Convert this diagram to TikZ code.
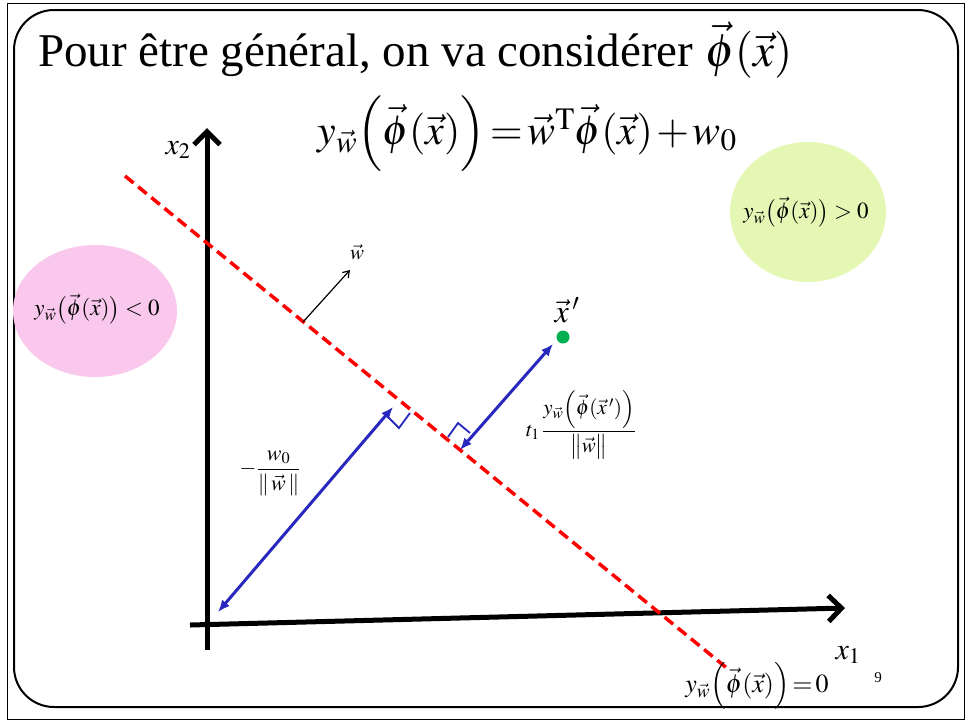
\documentclass[tikz,border=0pt]{standalone}
\usepackage{mathptmx}
\usepackage{fontspec}
\setmainfont{Liberation Serif}
\usetikzlibrary{calc,arrows.meta}
\definecolor{pinkzone}{RGB}{249,200,236}
\definecolor{greenzone}{RGB}{228,247,180}
\definecolor{distblue}{RGB}{40,40,190}
\definecolor{dotgreen}{RGB}{0,176,80}
\newcommand{\fs}[1]{\fontsize{#1}{1.2\dimexpr#1pt\relax}\selectfont}
\newcommand{\tight}{\thickmuskip=2mu\medmuskip=1.5mu}
\begin{document}
\begin{tikzpicture}[x=1pt,y=-1pt,
  axis/.style={line width=5pt,-{Straight Barb[length=13pt,width=26pt,line width=5pt]}},
  boundary/.style={red,line width=3.5pt,dash pattern=on 11pt off 6pt},
  dist/.style={distblue,line width=3pt,{Latex[length=12pt,width=10pt]}-{Latex[length=12pt,width=10pt]}},
  rightmark/.style={distblue,line width=1.8pt}]
\useasboundingbox (0,0) rectangle (966,721);
% frames
\draw[line width=1pt] (7,3) rectangle (964,719);
\draw[line width=2pt,rounded corners=40pt] (14,10) rectangle (958,707);
% title and model
\node[anchor=base west,font=\fs{47},inner sep=0pt] (title) at (38,66) {Pour être général, on va considérer $\vec{\phi}(\vec{x})$};
\node[font=\fs{42},inner sep=0pt] (model) at (527,134) {$\tight y_{\vec{w}}\Bigl(\vec{\phi}(\vec{x})\Bigr)=\vec{w}^{\mathrm{T}}\vec{\phi}(\vec{x})+w_0$};
% regions
\fill[pinkzone] (95,311) ellipse [x radius=82pt,y radius=66pt];
\node[font=\fs{23}] (neg) at (97,309) {$y_{\vec{w}}\bigl(\vec{\phi}(\vec{x})\bigr)<0$};
\fill[greenzone] (808,212) ellipse [x radius=78pt,y radius=70pt];
\node[font=\fs{23}] (pos) at (806,212) {$y_{\vec{w}}\bigl(\vec{\phi}(\vec{x})\bigr)>0$};
% axes
\coordinate (xend) at (845,608);
\coordinate (yend) at (207,128);
\draw[axis] (190,625) -- (xend);
\draw[axis] (207,650) -- (yend);
\node[font=\fs{30}] (lx2) at (178,150) {$x_2$};
\node[font=\fs{30}] (lx1) at (848,655) {$x_1$};
% decision boundary
\coordinate (b1) at (125,176);
\coordinate (b2) at (728,669);
\draw[boundary] (b1) -- (b2);
\node[font=\fs{26},inner sep=0pt] (zero) at (757,686) {$\tight y_{\vec{w}}\Bigl(\vec{\phi}(\vec{x})\Bigr)=0$};
% normal vector
\coordinate (wbase) at (303,322);
\coordinate (wtip) at (350,270);
\draw[line width=1.2pt,-{Straight Barb[length=6pt,width=8pt]}] (wbase) -- (wtip);
\node[font=\fs{21}] (lw) at (357,252) {$\vec{w}$};
% distance from origin
\coordinate (p0) at (218,612);
\coordinate (f0) at (393,407);
\draw[dist] (p0) -- (f0);
\draw[rightmark] (388,417) -- (399,428) -- (410,413);
\node[font=\fs{22}] (lw0) at (270,473) {$-\displaystyle\frac{w_0}{\|\,\vec{w}\,\|}$};
% distance of x'
\node[circle,fill=dotgreen,inner sep=0pt,minimum size=13pt] (dot) at (563,337) {};
\node[font=\fs{32}] (lxp) at (567,310) {$\vec{x}\,'$};
\coordinate (p1) at (553,344);
\coordinate (f1) at (460,450);
\draw[dist] (p1) -- (f1);
\draw[rightmark] (448,437) -- (458,423) -- (470,433);
\node[font=\fs{21}] (lt) at (581,425) {$t_1\,\displaystyle\frac{y_{\vec{w}}\Bigl(\vec{\phi}(\vec{x}\,')\Bigr)}{\bigl\|\vec{w}\bigr\|}$};
% slide number
\node[font=\fs{15}] (num) at (878,678) {9};
\end{tikzpicture}
\end{document}
